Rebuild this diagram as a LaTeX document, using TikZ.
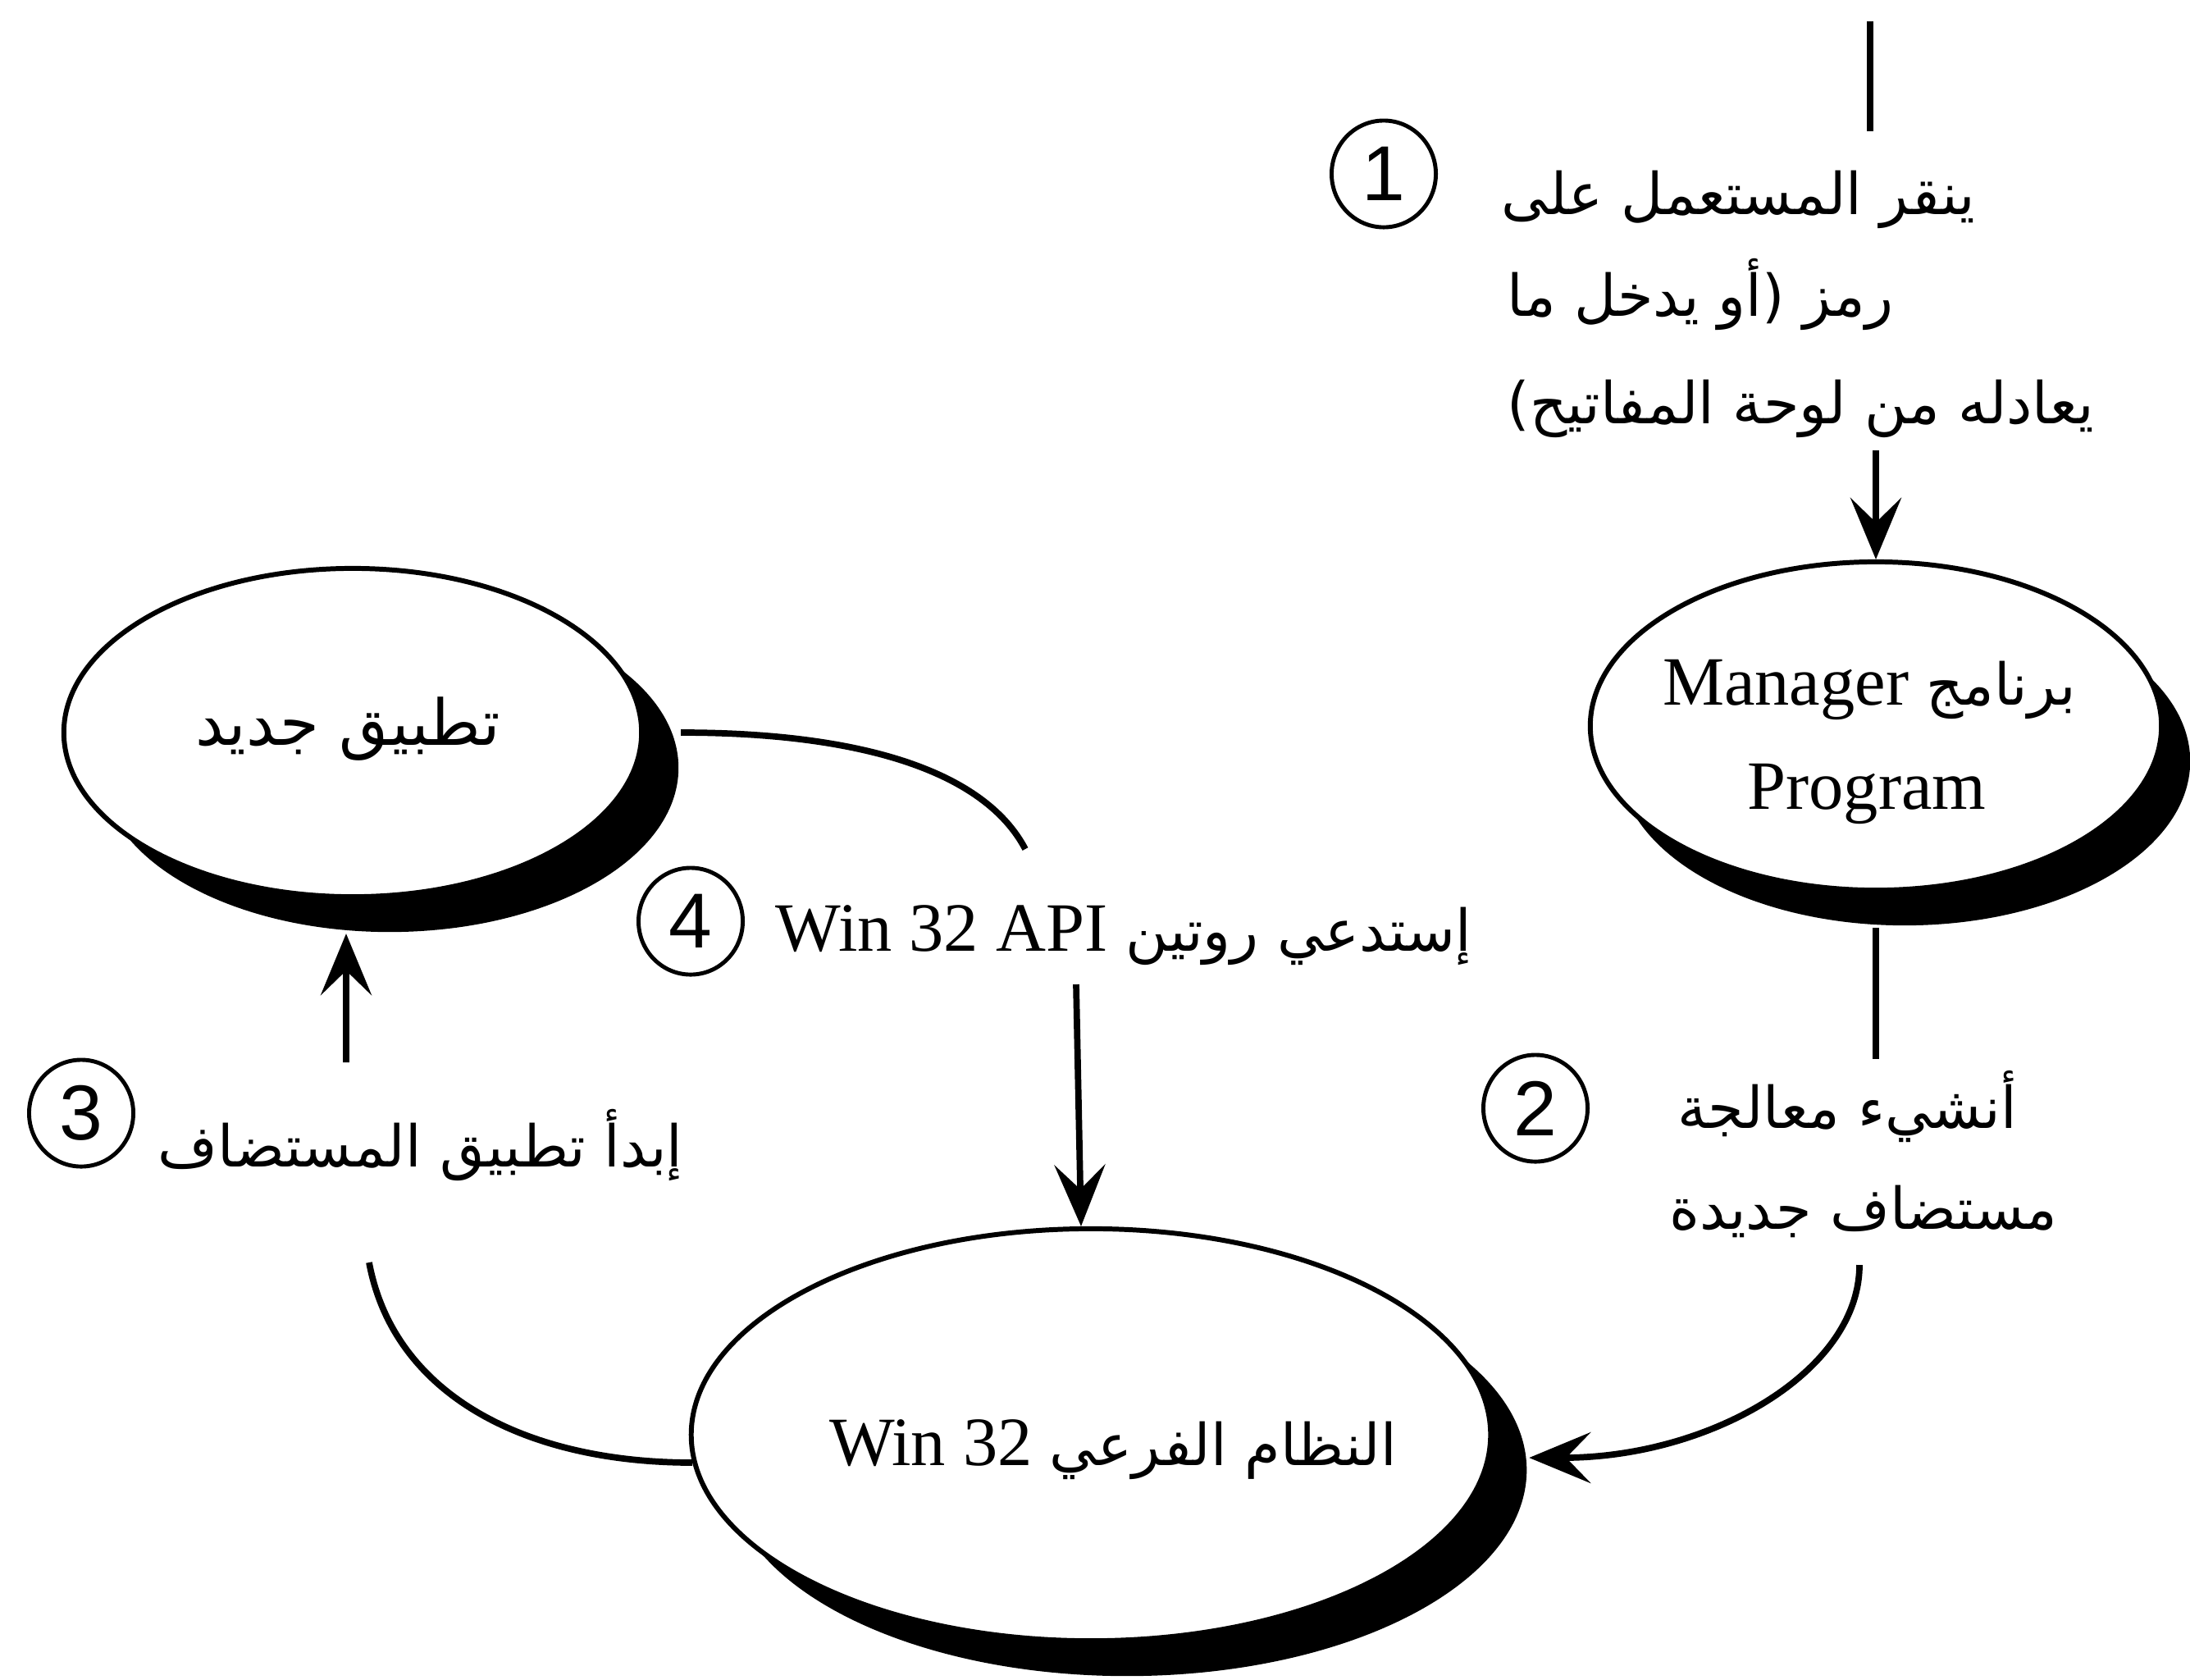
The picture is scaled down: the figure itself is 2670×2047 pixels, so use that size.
\documentclass[tikz,border=0pt]{standalone}
\usepackage{fontspec}
\setmainfont{Liberation Serif}
\newfontfamily\arabicfont[Script=Arabic]{DejaVu Sans}
\newfontfamily\circnumfont{Liberation Sans}
\TeXXeTstate=1
\usetikzlibrary{arrows.meta,shapes.geometric,shadows,calc}
\begin{document}
\begin{tikzpicture}[x=0.01cm,y=-0.01cm,
  proc/.style={ellipse,draw,line width=1.7pt,fill=white,inner sep=0pt},
  shad/.style={drop shadow={shadow xshift=#1,shadow yshift=-0.43cm,fill=black,opacity=1}},
  numc/.style={ellipse,draw,line width=1.4pt,minimum width=1.27cm,minimum height=1.3cm,inner sep=0pt,font=\circnumfont\fontsize{27}{27}\selectfont},
  ar/.style={font=\arabicfont\fontsize{20}{30}\selectfont,inner sep=0pt},
  lat/.style={font=\rmfamily\fontsize{24}{30}\selectfont,inner sep=0pt},
  conn/.style={line width=2.2pt},
  arr/.style={conn,-{Stealth[length=0.75cm,width=0.62cm,inset=0.3cm]}}
]
\useasboundingbox (0,0) rectangle (2670,2047);

% process ellipses
\node[proc,shad=0.35cm,minimum width=6.96cm,minimum height=4.0cm] (mgr) at (2287,885) {};
\node[proc,shad=0.45cm,minimum width=7.04cm,minimum height=4.0cm] (app) at (430,893) {};
\node[proc,shad=0.44cm,minimum width=9.74cm,minimum height=5.02cm] (w32) at (1330,1749) {};

% texts inside the ellipses
\node[lat,anchor=base] (mgrt1) at (2279,859)
  {\beginR{\arabicfont\fontsize{20}{30}\selectfont برنامج} \beginL Manager\endL\endR};
\node[lat,anchor=base] (mgrt2) at (2276,986) {Program};
\node[ar,anchor=base,font=\arabicfont\fontsize{22}{30}\selectfont] (appt) at (424,908)
  {\beginR تطبيق جديد\endR};
\node[lat,anchor=base] (w32t) at (1357,1786)
  {\beginR{\arabicfont\fontsize{20}{30}\selectfont النظام الفرعي} \beginL Win 32\endL\endR};

% circled step numbers
\node[numc] (n1) at (1687,212) {1};
\node[numc] (n2) at (1872,1351) {2};
\node[numc] (n3) at (99,1357) {3};
\node[numc] (n4) at (842,1123) {4};

% labels
\node[ar,anchor=base west] (t1a) at (1830,261) {\beginR ينقر المستعمل على\endR};
\node[ar,anchor=base west] (t1b) at (1837,385) {\beginR رمز (أو يدخل ما\endR};
\node[ar,anchor=base west] (t1c) at (1837,516) {\beginR يعادله من لوحة المفاتيح)\endR};
\node[ar,anchor=base] (t2a) at (2252,1375) {\beginR أنشيء معالجة\endR};
\node[ar,anchor=base] (t2b) at (2272,1498) {\beginR مستضاف جديدة\endR};
\node[ar,anchor=base west] (t3) at (192,1422) {\beginR إبدأ تطبيق المستضاف\endR};
\node[ar,anchor=base west] (t4) at (945,1159)
  {\beginR إستدعي روتين \beginL{\rmfamily\fontsize{24}{30}\selectfont Win 32 API}\endL\endR};

% connectors
\coordinate (top1) at (2280,26);
\coordinate (top2) at (2280,160);
\draw[conn] (top1) -- (top2);

\coordinate (a1s) at (2287,549);
\draw[arr] (a1s) -- (mgr.north);

\coordinate (m2e) at (2287,1291);
\draw[conn] ([yshift=-0.43cm]mgr.south) -- (m2e);

\coordinate (r2s) at (2267,1542);
\draw[arr] (r2s) .. controls (2267,1672) and (2085,1777) .. ([xshift=0.44cm,yshift=-0.28cm]w32.east);

\coordinate (a4s) at (1312,1200);
\draw[arr] (a4s) -- ([xshift=-0.12cm]w32.north);

\coordinate (u4e) at (1250,1035);
\draw[conn] ([xshift=0.45cm]app.east) .. controls (1050,893) and (1200,940) .. (u4e);

\coordinate (b3e) at (450,1539);
\draw[conn] (w32.184) .. controls (640,1783) and (480,1700) .. (b3e);

\coordinate (a3s) at (422,1295);
\draw[arr] (a3s) -- ([xshift=-0.08cm,yshift=-0.42cm]app.south);
\end{tikzpicture}
\end{document}
